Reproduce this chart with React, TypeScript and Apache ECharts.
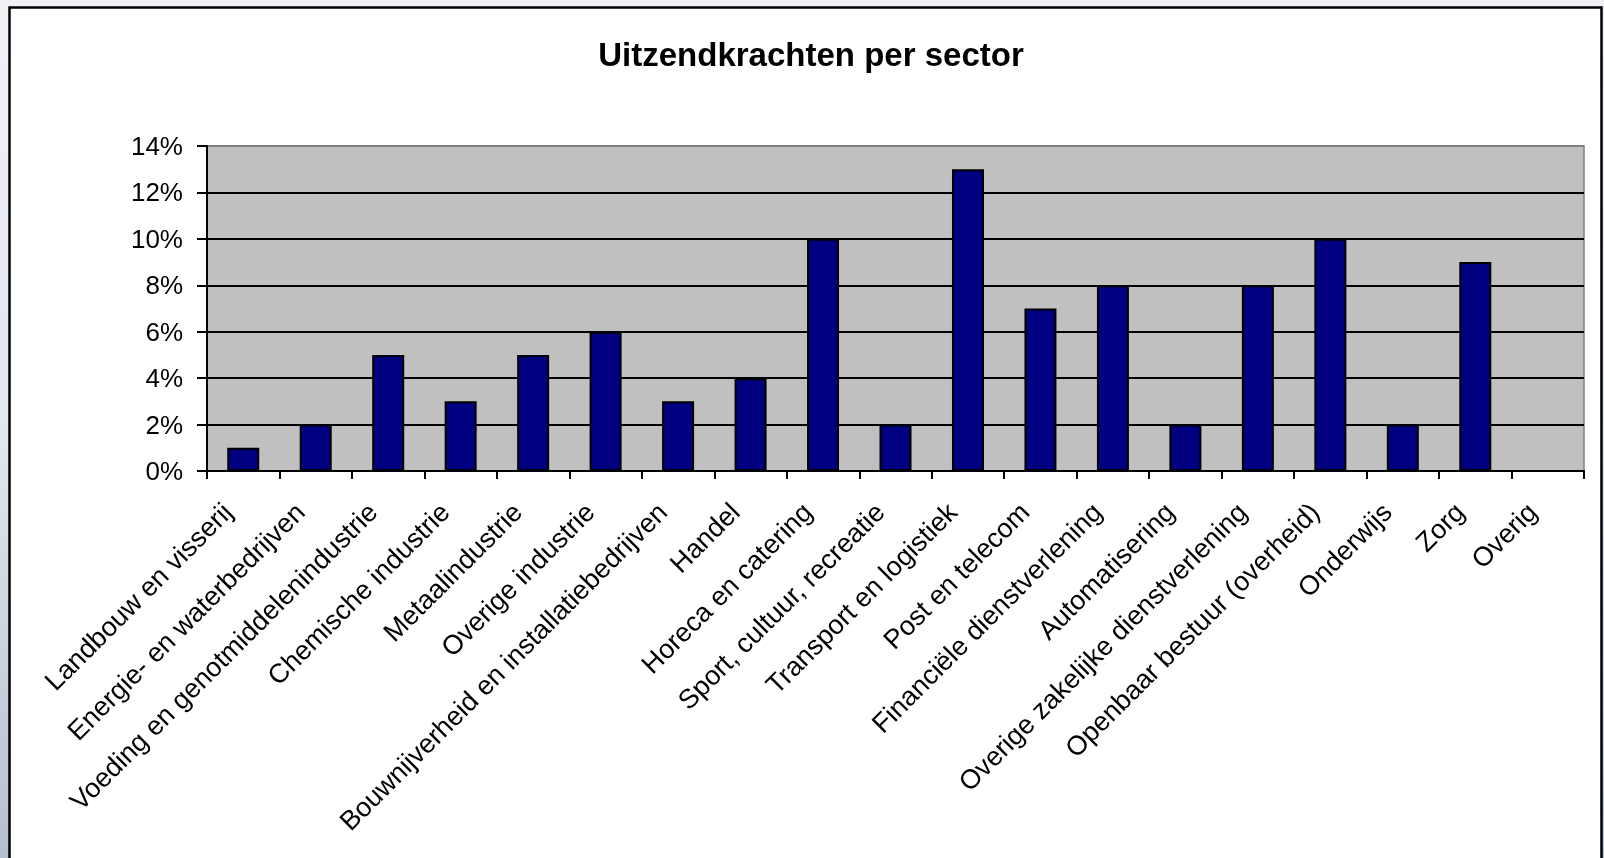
import React, { useEffect, useRef } from "react";
import * as echarts from "echarts";

const categories = [
  "Landbouw en visserij",
  "Energie- en waterbedrijven",
  "Voeding en genotmiddelenindustrie",
  "Chemische industrie",
  "Metaalindustrie",
  "Overige industrie",
  "Bouwnijverheid en installatiebedrijven",
  "Handel",
  "Horeca en catering",
  "Sport, cultuur, recreatie",
  "Transport en logistiek",
  "Post en telecom",
  "Financiële dienstverlening",
  "Automatisering",
  "Overige zakelijke dienstverlening",
  "Openbaar bestuur (overheid)",
  "Onderwijs",
  "Zorg",
  "Overig",
];

const shares: (number | null)[] = [1, 2, 5, 3, 5, 6, 3, 4, 10, 2, 13, 7, 8, 2, 8, 10, 2, 9, null];

const yTicks = { min: 0, max: 14, interval: 2 };

const title = "Uitzendkrachten per sector";

export default function App() {
  const ref = useRef<HTMLDivElement>(null);
  useEffect(() => {
    if (!ref.current) return;
    const chart = echarts.init(ref.current, null, { renderer: "svg" });
    const font = "'Liberation Sans', Arial, sans-serif";
    chart.setOption({
      animation: false,
      graphic: [
        {
          type: "rect",
          z: -10,
          silent: true,
          shape: { x: 0, y: 0, width: 1604, height: 858 },
          style: {
            fill: new echarts.graphic.LinearGradient(0, 0, 0, 1, [
              { offset: 0, color: "#eff1f5" },
              { offset: 0.5, color: "#e3e7ee" },
              { offset: 1, color: "#b4bfcf" },
            ]),
          },
        },
        {
          type: "rect",
          z: -9,
          silent: true,
          shape: { x: 9.5, y: 7.5, width: 1592, height: 880 },
          style: { fill: "#ffffff", stroke: "#000000", lineWidth: 2.5 },
        },
      ],
      title: {
        text: title,
        left: 806,
        top: 33,
        textAlign: "center",
        textStyle: { fontFamily: font, fontWeight: "bold", fontSize: 33, color: "#000" },
      },
      grid: {
        left: 207,
        top: 146,
        width: 1377,
        height: 325,
        show: true,
        backgroundColor: "#c0c0c0",
        borderColor: "#808080",
        borderWidth: 1.5,
        z: 0,
      },
      xAxis: {
        type: "category",
        data: categories,
        boundaryGap: true,
        axisLine: { show: true, lineStyle: { color: "#000", width: 2 } },
        axisTick: { show: true, length: 8, interval: 0, alignWithLabel: false, lineStyle: { color: "#000", width: 2 } },
        axisLabel: {
          interval: 0,
          rotate: 45,
          margin: 21,
          padding: [0, 22, 0, 0],
          fontFamily: font,
          fontSize: 27,
          color: "#000",
        },
      },
      yAxis: {
        type: "value",
        min: yTicks.min,
        max: yTicks.max,
        interval: yTicks.interval,
        axisLine: { show: true, lineStyle: { color: "#000", width: 2 } },
        axisTick: { show: true, length: 10, lineStyle: { color: "#000", width: 2 } },
        splitLine: {
          show: true,
          lineStyle: {
            color: ["#000", "#000", "#000", "#000", "#000", "#000", "#000", "#808080"],
            width: 2,
          },
        },
        axisLabel: {
          formatter: "{value}%",
          margin: 24,
          fontFamily: font,
          fontSize: 26,
          color: "#000",
        },
      },
      series: [
        {
          type: "bar",
          data: shares,
          barWidth: 32,
          itemStyle: { color: "#000080", borderColor: "#000", borderWidth: 2 },
        },
      ],
    });
    return () => chart.dispose();
  }, []);
  return (
    <div
      ref={ref}
      style={{ position: "fixed", left: 0, top: 0, width: 1604, height: 858 }}
    />
  );
}
